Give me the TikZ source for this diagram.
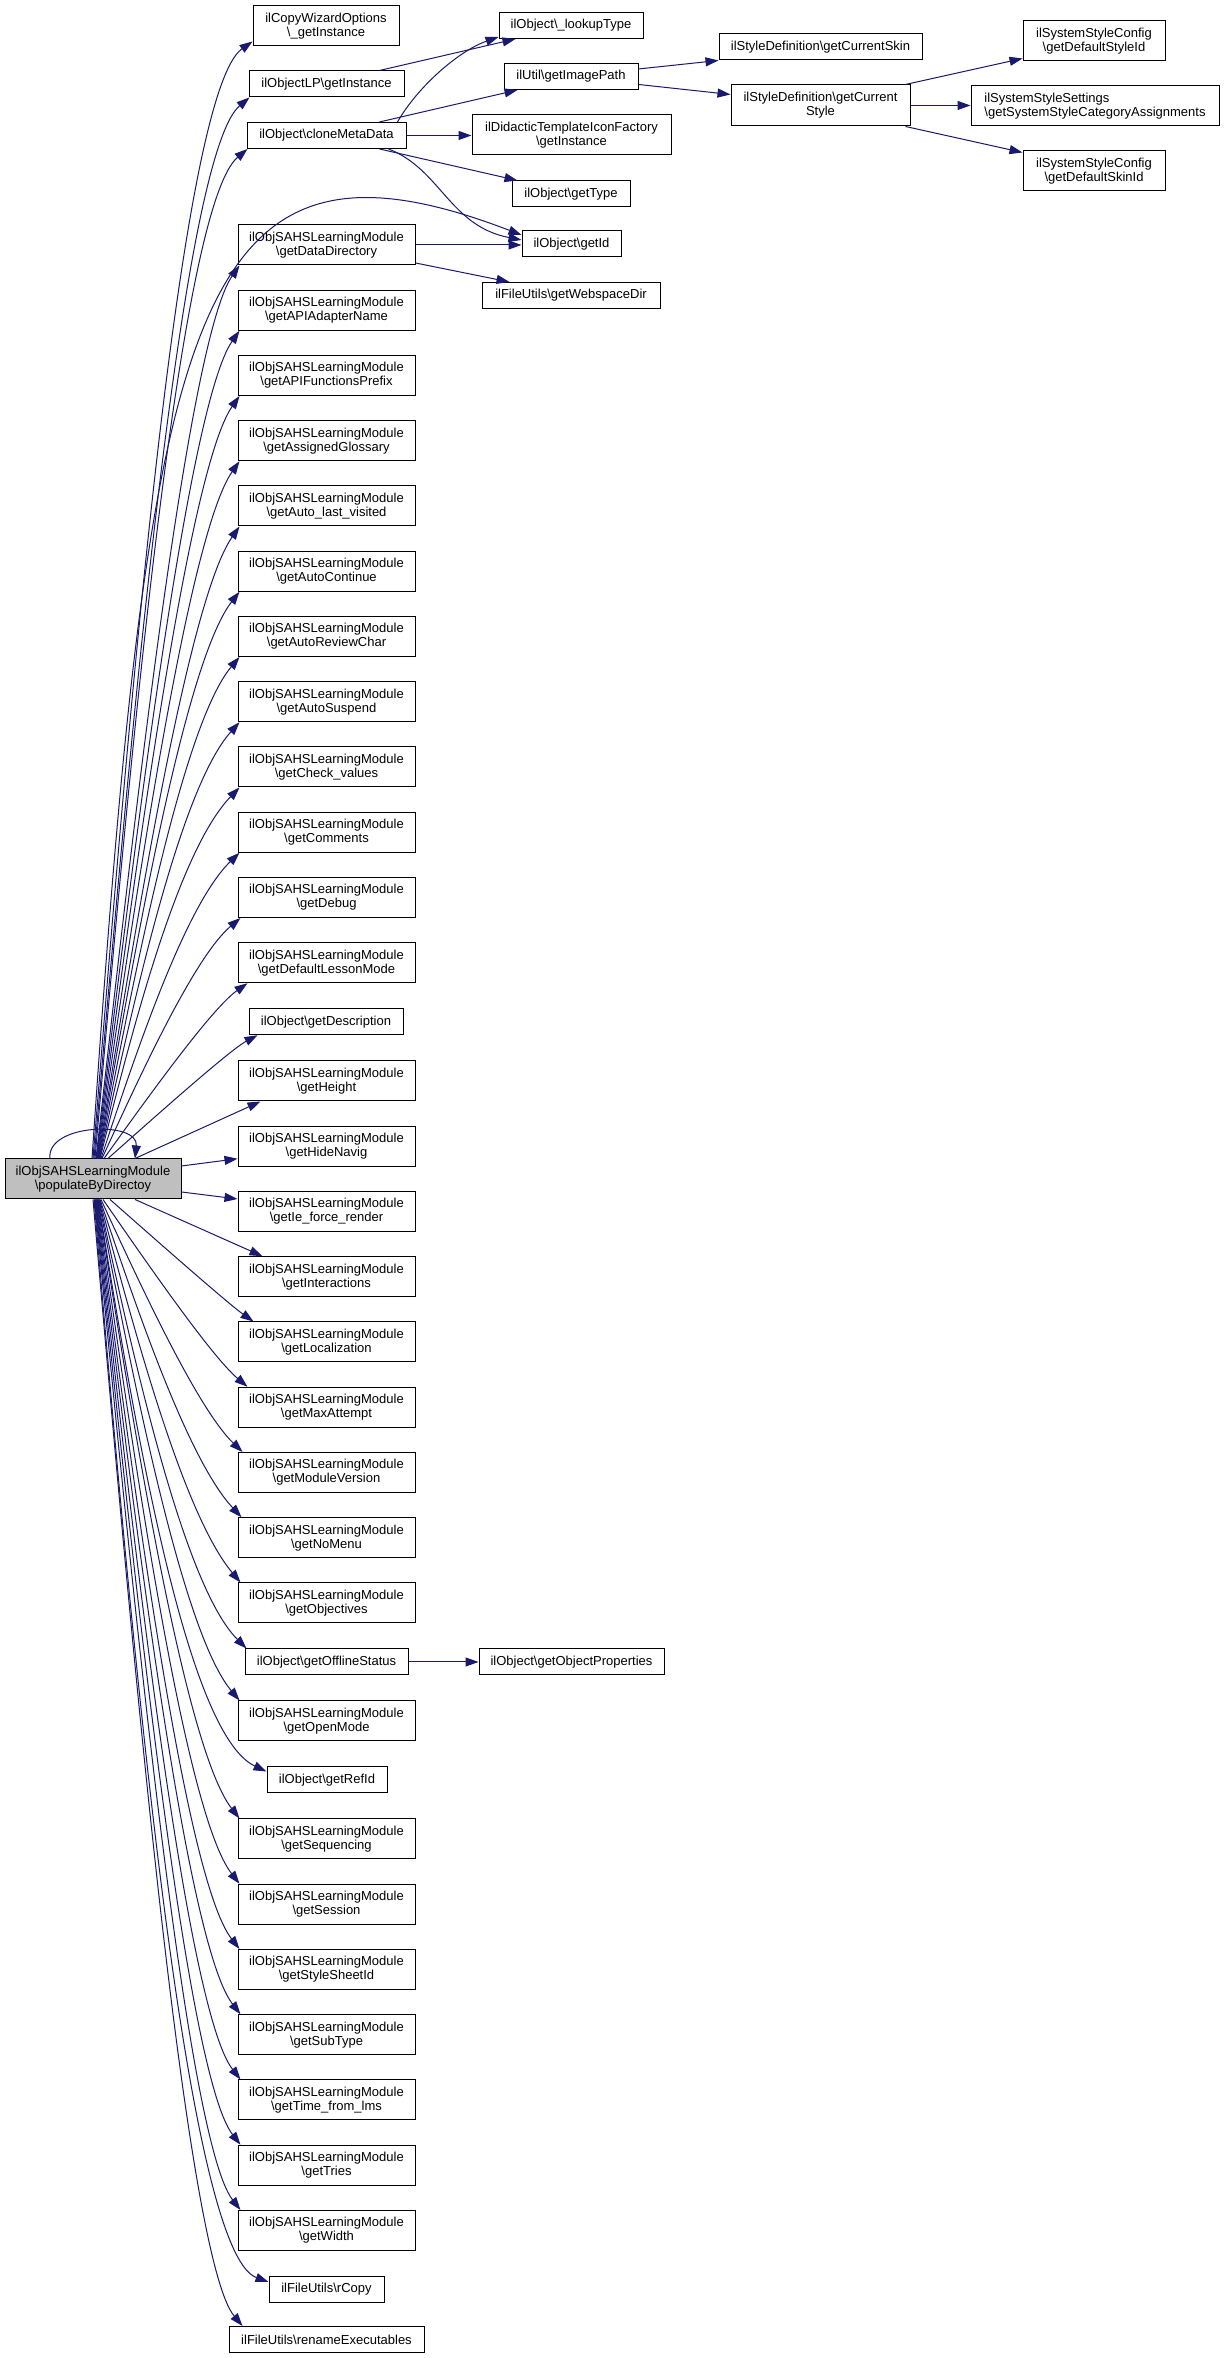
\documentclass[tikz,border=0pt]{standalone}
\usepackage{fontspec}
\setmainfont{Liberation Sans}
\usetikzlibrary{arrows.meta,calc}
\definecolor{edgecol}{HTML}{191970}
\definecolor{maingray}{HTML}{BFBFBF}
\newcommand\modnode[3]{\node[box,two,minimum width=177pt] (#1) at (326.5,#2) {ilObjSAHSLearningModule\\\textbackslash #3};}
\newcommand\upcurve[3]{%
  \draw[conn] let \p1=([xshift=#1pt]main.north), \p2=(#2),
    \n3={min(0.25*(\y2-\y1),90pt)},
    \p3=($(\p2)+({-\n3*cos(#3)},{-\n3*sin(#3)})$) in
    (\p1) .. controls ($(\p1)!0.4!(\p3)$) and (\p3) .. (\p2);}
\newcommand\downcurve[3]{%
  \draw[conn] let \p1=([xshift=#1pt]main.south), \p2=(#2),
    \n3={min(0.25*(\y1-\y2),90pt)},
    \p3=($(\p2)+({-\n3*cos(#3)},{\n3*sin(#3)})$) in
    (\p1) .. controls ($(\p1)!0.4!(\p3)$) and (\p3) .. (\p2);}
\begin{document}
\begin{tikzpicture}[x=1pt,y=1pt,
  box/.style={draw=black, line width=1pt, fill=white, font=\fontsize{13}{14}\selectfont, align=center, inner xsep=3pt, inner ysep=2pt},
  one/.style={minimum height=26pt},
  two/.style={minimum height=40pt},
  conn/.style={draw=edgecol, line width=1pt, -{Triangle[length=13pt,width=9pt]}}]
\fill[white] (0,0) rectangle (1224,2358);
\useasboundingbox (0,0) rectangle (1224,2358);

% main node
\node[box,two,fill=maingray,minimum width=176pt] (main) at (93,1179) {ilObjSAHSLearningModule\\\textbackslash populateByDirectoy};

% column 1
\node[box,two,minimum width=146pt] (cw) at (326,2332) {ilCopyWizardOptions\\\textbackslash\_getInstance};
\node[box,one,minimum width=155pt] (olp) at (326.5,2274) {ilObjectLP\textbackslash getInstance};
\node[box,one,minimum width=159pt] (cmd) at (326.5,2222.5) {ilObject\textbackslash cloneMetaData};
\modnode{dd}{2113}{getDataDirectory}
\modnode{api}{2047.75}{getAPIAdapterName}
\modnode{apf}{1982.5}{getAPIFunctionsPrefix}
\modnode{glo}{1917.25}{getAssignedGlossary}
\modnode{alv}{1852}{getAuto\_last\_visited}
\modnode{aco}{1786.75}{getAutoContinue}
\modnode{arc}{1721.5}{getAutoReviewChar}
\modnode{asu}{1656.25}{getAutoSuspend}
\modnode{chk}{1591}{getCheck\_values}
\modnode{com}{1525.75}{getComments}
\modnode{dbg}{1460.5}{getDebug}
\modnode{dlm}{1395.25}{getDefaultLessonMode}
\node[box,one,minimum width=154pt] (desc) at (326,1336.25) {ilObject\textbackslash getDescription};
\modnode{hgt}{1277}{getHeight}
\modnode{hide}{1211.75}{getHideNavig}
\modnode{ie}{1146.5}{getIe\_force\_render}
\modnode{int}{1081.25}{getInteractions}
\modnode{loc}{1016}{getLocalization}
\modnode{mxa}{950.75}{getMaxAttempt}
\modnode{mver}{885.5}{getModuleVersion}
\modnode{nom}{820.25}{getNoMenu}
\modnode{obj}{755}{getObjectives}
\node[box,one,minimum width=163pt] (offl) at (326.5,696) {ilObject\textbackslash getOfflineStatus};
\modnode{opm}{637}{getOpenMode}
\node[box,one,minimum width=120pt] (ref) at (327,578) {ilObject\textbackslash getRefId};
\modnode{seq}{519}{getSequencing}
\modnode{ses}{453.75}{getSession}
\modnode{sty}{388.5}{getStyleSheetId}
\modnode{sub}{323.25}{getSubType}
\modnode{tim}{258}{getTime\_from\_lms}
\modnode{tri}{192.75}{getTries}
\modnode{wid}{127.5}{getWidth}
\node[box,one,minimum width=115pt] (rcp) at (326.5,68.5) {ilFileUtils\textbackslash rCopy};
\node[box,one,minimum width=195pt] (ren) at (326.5,18.5) {ilFileUtils\textbackslash renameExecutables};

% column 2
\node[box,one,minimum width=144pt] (lookup) at (571,2332.5) {ilObject\textbackslash\_lookupType};
\node[box,one,minimum width=134pt] (img) at (571,2281.5) {ilUtil\textbackslash getImagePath};
\node[box,two,minimum width=199pt] (did) at (571.5,2223) {ilDidacticTemplateIconFactory\\\textbackslash getInstance};
\node[box,one,minimum width=118pt] (gty) at (571,2164) {ilObject\textbackslash getType};
\node[box,one,minimum width=99pt] (gid) at (571.5,2114) {ilObject\textbackslash getId};
\node[box,one,minimum width=178pt] (web) at (571,2062.5) {ilFileUtils\textbackslash getWebspaceDir};
\node[box,one,minimum width=185pt] (oprop) at (571.5,696) {ilObject\textbackslash getObjectProperties};

% column 3
\node[box,one,minimum width=203pt] (skin) at (820.5,2311) {ilStyleDefinition\textbackslash getCurrentSkin};
\node[box,minimum height=41pt,minimum width=179pt] (style) at (820.5,2252.5) {ilStyleDefinition\textbackslash getCurrent\\Style};

% column 4
\node[box,two,minimum width=142pt] (dstyle) at (1094,2317) {ilSystemStyleConfig\\\textbackslash getDefaultStyleId};
\node[box,two,minimum width=248pt,align=left] (cat) at (1095,2252) {ilSystemStyleSettings\\\textbackslash getSystemStyleCategoryAssignments};
\node[box,two,minimum width=142pt] (dskin) at (1094,2187) {ilSystemStyleConfig\\\textbackslash getDefaultSkinId};

% self loop
\draw[conn] ([xshift=-43pt]main.north) .. controls +(-4,35) and +(4,38) .. ([xshift=42pt]main.north);

% upper edges from main
\upcurve{0}{[yshift=5pt]cw.south west}{35}
\upcurve{1}{[xshift=1pt]olp.south west}{40}
\upcurve{2}{[xshift=1pt]cmd.south west}{40}
\upcurve{3}{[xshift=2pt]dd.south west}{55}
\upcurve{3.5}{[xshift=2pt]api.south west}{55}
\upcurve{4}{[xshift=2pt]apf.south west}{55}
\upcurve{4.5}{[xshift=2pt]glo.south west}{55}
\upcurve{5}{[xshift=2pt]alv.south west}{55}
\upcurve{5.5}{[xshift=2pt]aco.south west}{52}
\upcurve{6}{[xshift=2pt]arc.south west}{50}
\upcurve{6.5}{[xshift=2pt]asu.south west}{48}
\upcurve{7}{[xshift=2pt]chk.south west}{46}
\upcurve{8}{[xshift=2pt]com.south west}{44}
\upcurve{9}{[xshift=3pt]dbg.south west}{40}
\upcurve{11}{[xshift=10pt]dlm.south west}{35}
\upcurve{15}{[xshift=9pt]desc.south west}{28}
\draw[conn] ([xshift=42pt]main.north) -- ([xshift=23pt]hgt.south west);
\draw[conn] ([yshift=13pt]main.east) -- ([yshift=8pt]hide.south west);
\draw[conn] ([yshift=-13pt]main.east) -- ([yshift=-8pt]ie.north west);
\draw[conn] ([xshift=42pt]main.south) -- ([xshift=25pt]int.north west);

% main -> getId
\draw[conn] ([xshift=-1pt]main.north) .. controls (150,2050) and (190,2250) .. ([yshift=9pt]gid.west);

% lower edges from main
\downcurve{17}{[xshift=16pt]loc.north west}{35}
\downcurve{10}{[xshift=10pt]mxa.north west}{40}
\downcurve{8}{[xshift=5pt]mver.north west}{44}
\downcurve{7}{[xshift=4pt]nom.north west}{47}
\downcurve{6.5}{[xshift=3pt]obj.north west}{50}
\downcurve{6}{[xshift=2pt]offl.north west}{45}
\downcurve{5.5}{[xshift=2pt]opm.north west}{50}
\downcurve{5}{[yshift=-5pt]ref.north west}{25}
\downcurve{4.5}{[xshift=2pt]seq.north west}{52}
\downcurve{4}{[xshift=2pt]ses.north west}{52}
\downcurve{3.5}{[xshift=2pt]sty.north west}{52}
\downcurve{3}{[xshift=3pt]sub.north west}{52}
\downcurve{2.5}{[xshift=3pt]tim.north west}{52}
\downcurve{2}{[xshift=3pt]tri.north west}{52}
\downcurve{1.5}{[xshift=3pt]wid.north west}{52}
\downcurve{1}{[yshift=-6pt]rcp.north west}{20}
\downcurve{0}{[xshift=14pt]ren.north west}{50}

% other edges
\draw[conn] ([xshift=53pt]olp.north) -- ([xshift=17pt]lookup.south west);
\draw[conn] ([xshift=71pt]cmd.north) .. controls +(20,35) and +(-40,-14) .. ([yshift=2pt]lookup.south west);
\draw[conn] ([xshift=53pt]cmd.north) -- ([xshift=14pt]img.south west);
\draw[conn] (cmd.east) -- (cmd.east -| did.west);
\draw[conn] ([xshift=53pt]cmd.south) -- ([xshift=6pt]gty.north west);
\draw[conn] ([xshift=62pt]cmd.south) .. controls +(52,-20) and +(-72,14) .. ([yshift=4pt]gid.west);
\draw[conn] (dd.east) -- (dd.east -| gid.west);
\draw[conn] ([yshift=-18pt]dd.east) -- ([xshift=28pt]web.north west);
\draw[conn] ([yshift=7.5pt]img.east) -- (skin.south west);
\draw[conn] ([yshift=-8pt]img.east) -- ([yshift=-10pt]style.north west);
\draw[conn] ([xshift=-5pt]style.north east) -- ([yshift=3pt]dstyle.south west);
\draw[conn] (style.east) -- (style.east -| cat.west);
\draw[conn] ([xshift=-5pt]style.south east) -- ([yshift=-2pt]dskin.north west);
\draw[conn] (offl.east) -- (oprop.west);
\end{tikzpicture}
\end{document}
